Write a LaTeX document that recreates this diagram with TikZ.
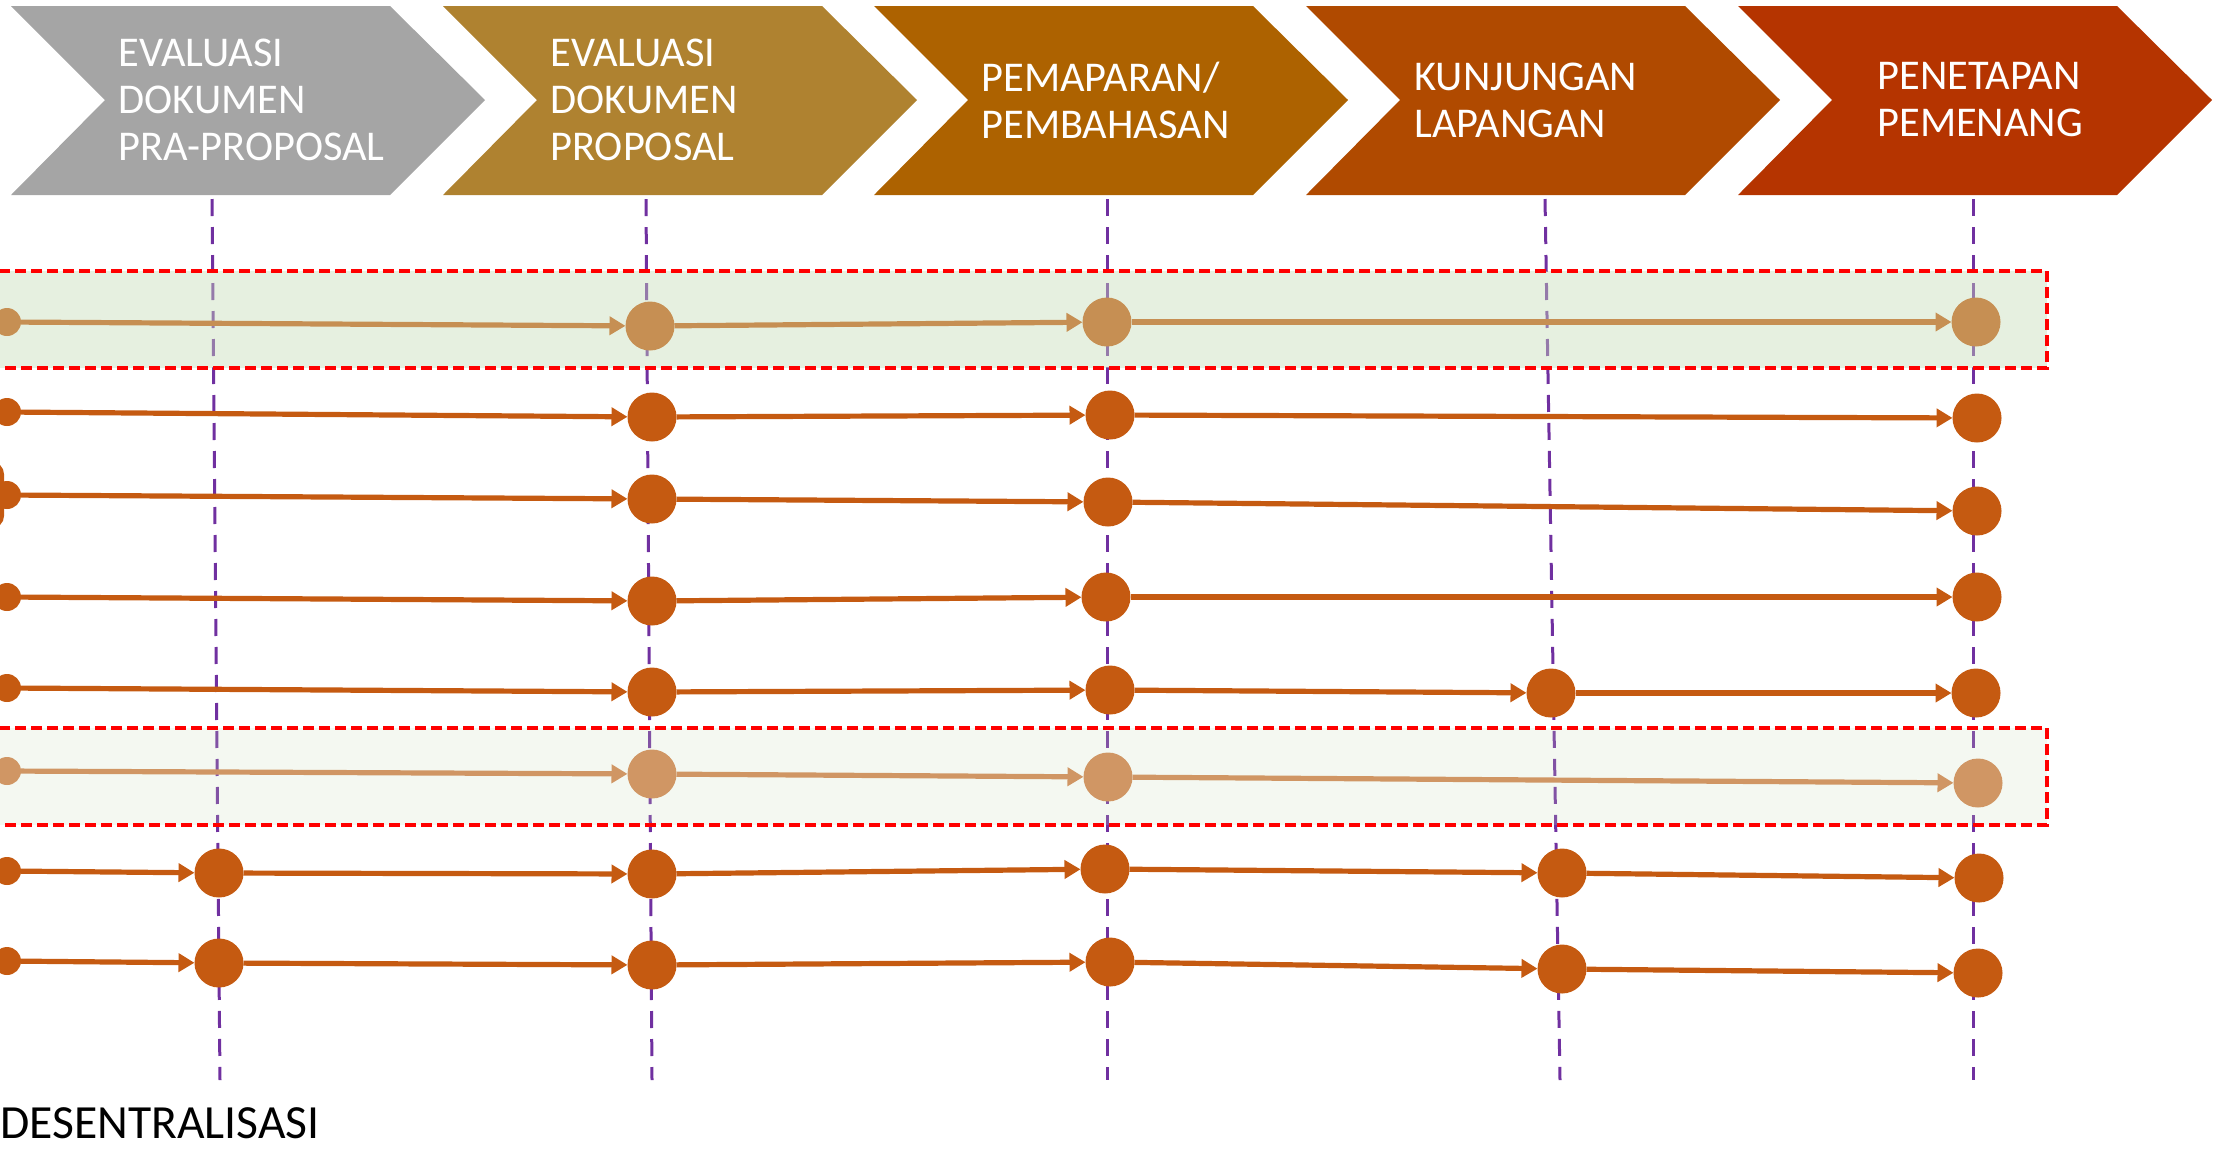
\documentclass[tikz,border=0pt]{standalone}
\usepackage{fontspec}
\setmainfont{Carlito}
\usetikzlibrary{arrows.meta}
\definecolor{chA}{RGB}{165,165,165}
\definecolor{chB}{RGB}{175,130,48}
\definecolor{chC}{RGB}{173,98,0}
\definecolor{chD}{RGB}{176,74,0}
\definecolor{chE}{RGB}{181,52,0}
\definecolor{dotc}{RGB}{197,90,17}
\definecolor{lightA}{RGB}{198,143,83}
\definecolor{lightB}{RGB}{208,150,100}
\definecolor{vpurple}{RGB}{112,48,160}
\definecolor{boxfill}{RGB}{198,221,184}
\tikzset{
  chev/.style={fill=#1, draw=none},
  chevtext/.style={anchor=west, align=left, text=white, inner sep=0pt,
    font=\fontsize{21.2pt}{23.5pt}\selectfont},
  vline/.style={draw=vpurple, line width=1.5pt, dash pattern=on 8.5pt off 5.5pt},
  bigdot/.style={circle, fill=#1, minimum size=24.5pt, inner sep=0pt, outer sep=0pt},
  bigdot/.default=dotc,
  smalldot/.style={circle, fill=#1, minimum size=14pt, inner sep=0pt, outer sep=0pt},
  smalldot/.default=dotc,
  arr/.style={draw=#1, line width=2.6pt, -{Triangle[length=8pt,width=9pt]}},
  arr/.default=dotc,
  redbox/.style={draw=red, line width=1.7pt, dash pattern=on 5.5pt off 2.5pt},
}
\begin{document}
\begin{tikzpicture}[x=0.5pt,y=-0.5pt]
\useasboundingbox (0,0) rectangle (2225,1164);

% chevrons
\foreach \L/\c in {11/chA,443/chB,874/chC,1306/chD,1738/chE}{
  \fill[chev=\c] (\L,6) -- ({\L+379},6) -- ({\L+474},100) -- ({\L+379},195) -- (\L,195) -- ({\L+94},100) -- cycle;
}
\node[chevtext] (t1) at (118,100) {EVALUASI\\DOKUMEN\\PRA-PROPOSAL};
\node[chevtext] (t2) at (550,100) {EVALUASI\\DOKUMEN\\PROPOSAL};
\node[chevtext] (t3) at (981,100) {PEMAPARAN/\\PEMBAHASAN};
\node[chevtext] (t4) at (1414,100) {KUNJUNGAN\\LAPANGAN};
\node[chevtext] (t5) at (1877,100) {PENETAPAN\\PEMENANG};

% vertical dashed guides
\coordinate (v1t) at (212,199); \coordinate (v1b) at (220,1080);
\coordinate (v2t) at (646,199); \coordinate (v2b) at (652,1080);
\coordinate (v3t) at (1107,199); \coordinate (v3b) at (1107,1080);
\coordinate (v4t) at (1545,199); \coordinate (v4b) at (1560,1080);
\coordinate (v5t) at (1973,199); \coordinate (v5b) at (1973,1080);
\foreach \i in {1,...,5}{ \draw[vline] (v\i t) -- (v\i b); }

% highlight box fills (translucent over the guides)
\fill[boxfill, fill opacity=0.43] (-10,271) rectangle (2047,368);
\fill[boxfill, fill opacity=0.2] (-10,728) rectangle (2047,825);

% row 1 (highlighted)
\node[smalldot=lightA] (a0) at (7,322) {};
\node[bigdot=lightA] (a1) at (650,326) {};
\node[bigdot=lightA] (a2) at (1107,322) {};
\node[bigdot=lightA] (a3) at (1976,322) {};
\draw[arr=lightA] (a0) -- (a1);
\draw[arr=lightA] (a1) -- (a2);
\draw[arr=lightA] (a2) -- (a3);

% row 2
\node[smalldot] (b0) at (7,412) {};
\node[bigdot] (b1) at (652,417) {};
\node[bigdot] (b2) at (1110,415) {};
\node[bigdot] (b3) at (1977,418) {};
\draw[arr] (b0) -- (b1);
\draw[arr] (b1) -- (b2);
\draw[arr] (b2) -- (b3);

% row 3
\fill[dotc, rounded corners=6pt] (-40,462) rectangle (4,528);
\node[smalldot] (c0) at (7,495) {};
\node[bigdot] (c1) at (652,499) {};
\node[bigdot] (c2) at (1108,502) {};
\node[bigdot] (c3) at (1977,511) {};
\draw[arr] (c0) -- (c1);
\draw[arr] (c1) -- (c2);
\draw[arr] (c2) -- (c3);

% row 4
\node[smalldot] (d0) at (7,597) {};
\node[bigdot] (d1) at (652,601) {};
\node[bigdot] (d2) at (1106,597) {};
\node[bigdot] (d3) at (1977,597) {};
\draw[arr] (d0) -- (d1);
\draw[arr] (d1) -- (d2);
\draw[arr] (d2) -- (d3);

% row 5
\node[smalldot] (e0) at (7,688) {};
\node[bigdot] (e1) at (652,692) {};
\node[bigdot] (e2) at (1110,690) {};
\node[bigdot] (e3) at (1551,693) {};
\node[bigdot] (e4) at (1976,693) {};
\draw[arr] (e0) -- (e1);
\draw[arr] (e1) -- (e2);
\draw[arr] (e2) -- (e3);
\draw[arr] (e3) -- (e4);

% row 6 (highlighted)
\node[smalldot=lightB] (f0) at (7,771) {};
\node[bigdot=lightB] (f1) at (652,774) {};
\node[bigdot=lightB] (f2) at (1108,777) {};
\node[bigdot=lightB] (f3) at (1978,783) {};
\draw[arr=lightB] (f0) -- (f1);
\draw[arr=lightB] (f1) -- (f2);
\draw[arr=lightB] (f2) -- (f3);

% row 7
\node[smalldot] (g0) at (7,871) {};
\node[bigdot] (g1) at (219,873) {};
\node[bigdot] (g2) at (652,874) {};
\node[bigdot] (g3) at (1105,869) {};
\node[bigdot] (g4) at (1562,873) {};
\node[bigdot] (g5) at (1979,878) {};
\draw[arr] (g0) -- (g1);
\draw[arr] (g1) -- (g2);
\draw[arr] (g2) -- (g3);
\draw[arr] (g3) -- (g4);
\draw[arr] (g4) -- (g5);

% row 8
\node[smalldot] (h0) at (7,961) {};
\node[bigdot] (h1) at (219,963) {};
\node[bigdot] (h2) at (652,965) {};
\node[bigdot] (h3) at (1110,962) {};
\node[bigdot] (h4) at (1562,969) {};
\node[bigdot] (h5) at (1978,973) {};
\draw[arr] (h0) -- (h1);
\draw[arr] (h1) -- (h2);
\draw[arr] (h2) -- (h3);
\draw[arr] (h3) -- (h4);
\draw[arr] (h4) -- (h5);

% red dashed frames
\draw[redbox] (-10,271) rectangle (2047,368);
\draw[redbox] (-10,728) rectangle (2047,825);

% caption
\node[anchor=west, inner sep=0pt, font=\fontsize{23.8pt}{28pt}\selectfont] (cap) at (0,1123) {DESENTRALISASI};
\end{tikzpicture}
\end{document}
